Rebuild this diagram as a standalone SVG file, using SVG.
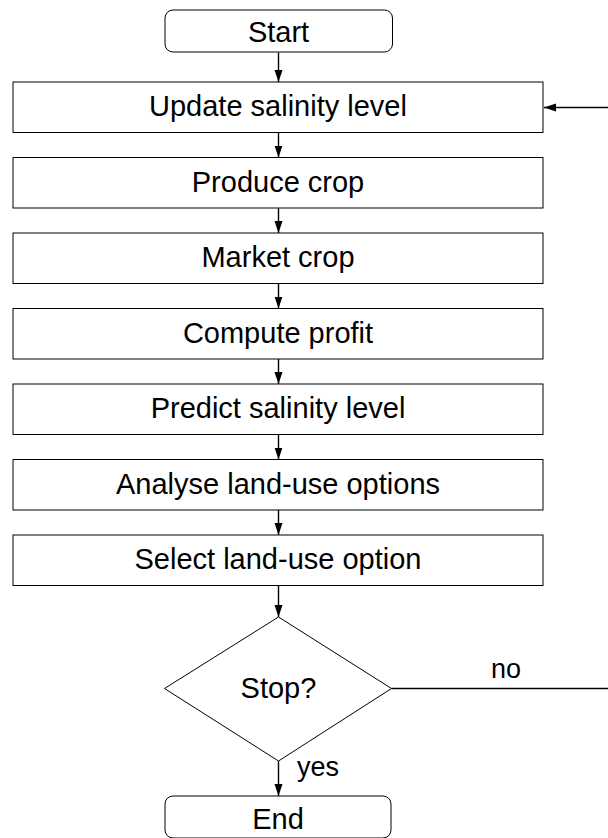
<svg xmlns="http://www.w3.org/2000/svg" width="608" height="838" viewBox="0 0 608 838">
  <defs>
    <marker id="arrow" viewBox="0 0 12 9" refX="12" refY="4.5" markerWidth="12" markerHeight="9" markerUnits="userSpaceOnUse" orient="auto">
      <path d="M0,0.5 L12,4.5 L0,8.5 Z" fill="#000"/>
    </marker>
  </defs>
  <style>
    .box { fill: #fff; stroke: #000; stroke-width: 1; }
    .label { font-family: "Liberation Sans", Arial, sans-serif; font-size: 29px; fill: #000; text-anchor: middle; }
    .edge { fill: none; stroke: #000; stroke-width: 1.4; }
    .edge-label { font-family: "Liberation Sans", Arial, sans-serif; font-size: 27px; fill: #000; }
  </style>
  <rect width="608" height="838" fill="#fff"/>

  <!-- connectors -->
  <g id="connectors">
    <line class="edge" x1="278.5" y1="52.5" x2="278.5" y2="82" marker-end="url(#arrow)"/>
    <line class="edge" x1="278.5" y1="132.5" x2="278.5" y2="157.5" marker-end="url(#arrow)"/>
    <line class="edge" x1="278.5" y1="208" x2="278.5" y2="233" marker-end="url(#arrow)"/>
    <line class="edge" x1="278.5" y1="283.5" x2="278.5" y2="308.5" marker-end="url(#arrow)"/>
    <line class="edge" x1="278.5" y1="359" x2="278.5" y2="384" marker-end="url(#arrow)"/>
    <line class="edge" x1="278.5" y1="434.5" x2="278.5" y2="459.5" marker-end="url(#arrow)"/>
    <line class="edge" x1="278.5" y1="510" x2="278.5" y2="535" marker-end="url(#arrow)"/>
    <line class="edge" x1="278.5" y1="585.5" x2="278.5" y2="617" marker-end="url(#arrow)"/>
    <line class="edge" x1="278.5" y1="761" x2="278.5" y2="796" marker-end="url(#arrow)"/>
    <!-- loop back from the decision to the first step -->
    <path class="edge" d="M391.5,688.5 H625 V107.5 H544" marker-end="url(#arrow)"/>
    <text class="edge-label" x="506" y="678" text-anchor="middle">no</text>
    <text class="edge-label" x="297" y="776">yes</text>
  </g>

  <g id="start">
    <rect class="box" x="165" y="10" width="227.5" height="42" rx="8"/>
    <text class="label" x="278.5" y="42">Start</text>
  </g>
  <g id="update-salinity">
    <rect class="box" x="13" y="82" width="530" height="50.5"/>
    <text class="label" x="278" y="116">Update salinity level</text>
  </g>
  <g id="produce-crop">
    <rect class="box" x="13" y="157.5" width="530" height="50.5"/>
    <text class="label" x="278" y="191.5">Produce crop</text>
  </g>
  <g id="market-crop">
    <rect class="box" x="13" y="233" width="530" height="50.5"/>
    <text class="label" x="278" y="267">Market crop</text>
  </g>
  <g id="compute-profit">
    <rect class="box" x="13" y="308.5" width="530" height="50.5"/>
    <text class="label" x="278" y="342.5">Compute profit</text>
  </g>
  <g id="predict-salinity">
    <rect class="box" x="13" y="384" width="530" height="50.5"/>
    <text class="label" x="278" y="418">Predict salinity level</text>
  </g>
  <g id="analyse-options">
    <rect class="box" x="13" y="459.5" width="530" height="50.5"/>
    <text class="label" x="278" y="493.5">Analyse land-use options</text>
  </g>
  <g id="select-option">
    <rect class="box" x="13" y="535" width="530" height="50.5"/>
    <text class="label" x="278" y="569">Select land-use option</text>
  </g>
  <g id="stop-decision">
    <polygon class="box" points="278.5,617 391.5,688.5 278.5,761 164.5,688.5"/>
    <text class="label" x="278.5" y="697.5">Stop?</text>
  </g>
  <g id="end">
    <rect class="box" x="165" y="796" width="226" height="42" rx="8"/>
    <text class="label" x="278" y="828.5">End</text>
  </g>
</svg>
